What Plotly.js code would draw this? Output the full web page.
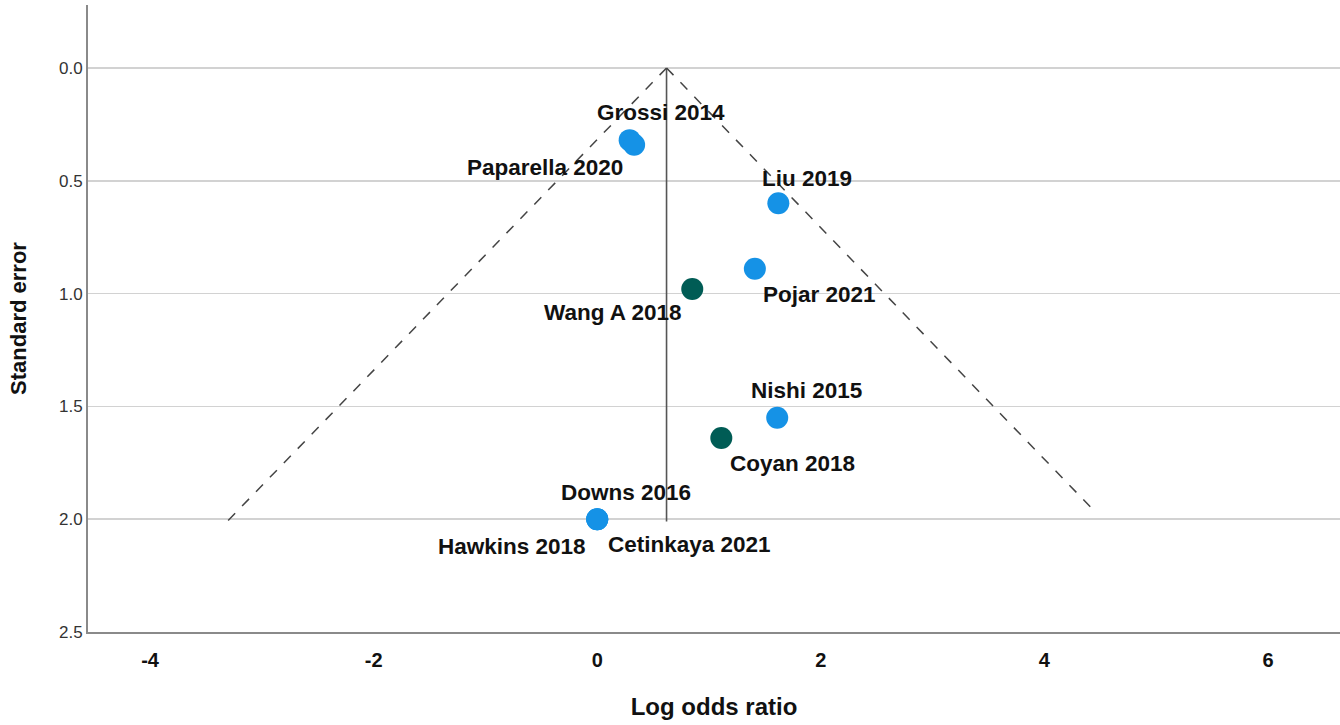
<!DOCTYPE html>
<html>
<head>
<meta charset="utf-8">
<script src="https://cdn.plot.ly/plotly-3.0.1.min.js"></script>
<style>
html,body{margin:0;padding:0;background:#fff;}
#chart{width:1340px;height:725px;}
</style>
</head>
<body>
<div id="chart"></div>
<script>
// ---- data ----
var studies = ["Grossi 2014","Paparella 2020","Liu 2019","Pojar 2021","Wang A 2018","Nishi 2015","Coyan 2018","Downs 2016","Hawkins 2018","Cetinkaya 2021"];
var logOR   = [0.29, 0.33, 1.62, 1.41, 0.85, 1.61, 1.11, 0.0, 0.0, 0.0];
var stdErr  = [0.32, 0.34, 0.60, 0.89, 0.98, 1.55, 1.64, 2.0, 2.0, 2.0];
var group   = ["A","A","A","A","B","A","B","A","A","A"];
var pooledEffect = 0.62;
var pooledSE = [0, 2.01];
var funnelLeftSE = [0, 2.01];
var funnelLeftX = [0.62, -3.31];
var funnelRightSE = [0, 1.955];
var funnelRightX = [0.62, 4.43];
var xTicks = [-4,-2,0,2,4,6];
var yTicks = [0,0.5,1,1.5,2,2.5];
var yTickText = ["0.0","0.5","1.0","1.5","2.0","2.5"];

// ---- styles (label offsets in pixels) ----
var labelShift = [[31,28],[-89,-23],[29,25],[65,-26],[-79,-23],[29,27],[71,-26],[29,27],[-85,-27],[92,-25]];
var colorMap = {A:"#1592E6", B:"#005C55"};

var traces = [];
traces.push({x:[pooledEffect,pooledEffect], y:pooledSE, mode:"lines", line:{color:"#555",width:1.6}, hoverinfo:"skip", showlegend:false});
traces.push({x:funnelLeftX, y:funnelLeftSE, mode:"lines", line:{color:"#444",width:1.5,dash:"10px,10px"}, hoverinfo:"skip", showlegend:false});
traces.push({x:funnelRightX, y:funnelRightSE, mode:"lines", line:{color:"#444",width:1.5,dash:"10px,10px"}, hoverinfo:"skip", showlegend:false});
traces.push({
  x:logOR, y:stdErr, mode:"markers", text:studies,
  marker:{size:22, color:group.map(function(g){return colorMap[g];}), line:{width:0}},
  showlegend:false
});

var annotations = studies.map(function(s,i){
  return {x:logOR[i], y:stdErr[i], xref:"x", yref:"y", text:s, showarrow:false,
    xshift:labelShift[i][0], yshift:labelShift[i][1],
    font:{family:"Liberation Sans, Arial, sans-serif", size:22.5, color:"#111", weight:"bold"}};
});

var layout = {
  width:1340, height:725,
  margin:{l:88, r:0, t:5, b:93},
  paper_bgcolor:"#fff", plot_bgcolor:"#fff",
  font:{family:"Liberation Sans, Arial, sans-serif"},
  xaxis:{
    range:[-4.555, 6.644], tickvals:xTicks, ticktext:xTicks.map(String),
    showgrid:false, zeroline:false, showline:true, linecolor:"#8a8a8a", linewidth:2,
    ticks:"", ticklabelstandoff:9,
    tickfont:{size:20, color:"#111", weight:"bold"},
    title:{text:"Log odds ratio", font:{size:24, color:"#111", weight:"bold"}, standoff:28}
  },
  yaxis:{
    range:[2.5, -0.279], tickvals:yTicks, ticktext:yTickText,
    showgrid:true, gridcolor:"#d2d2d2", gridwidth:1.5, zeroline:false,
    showline:true, linecolor:"#8a8a8a", linewidth:2,
    ticks:"", ticklabelstandoff:0,
    tickfont:{size:17, color:"#333"},
    title:{text:"Standard error", font:{size:22, color:"#111", weight:"bold"}, standoff:26}
  },
  annotations:annotations,
  hovermode:"closest"
};

Plotly.newPlot("chart", traces, layout, {displayModeBar:false, staticPlot:true});
</script>
</body>
</html>
